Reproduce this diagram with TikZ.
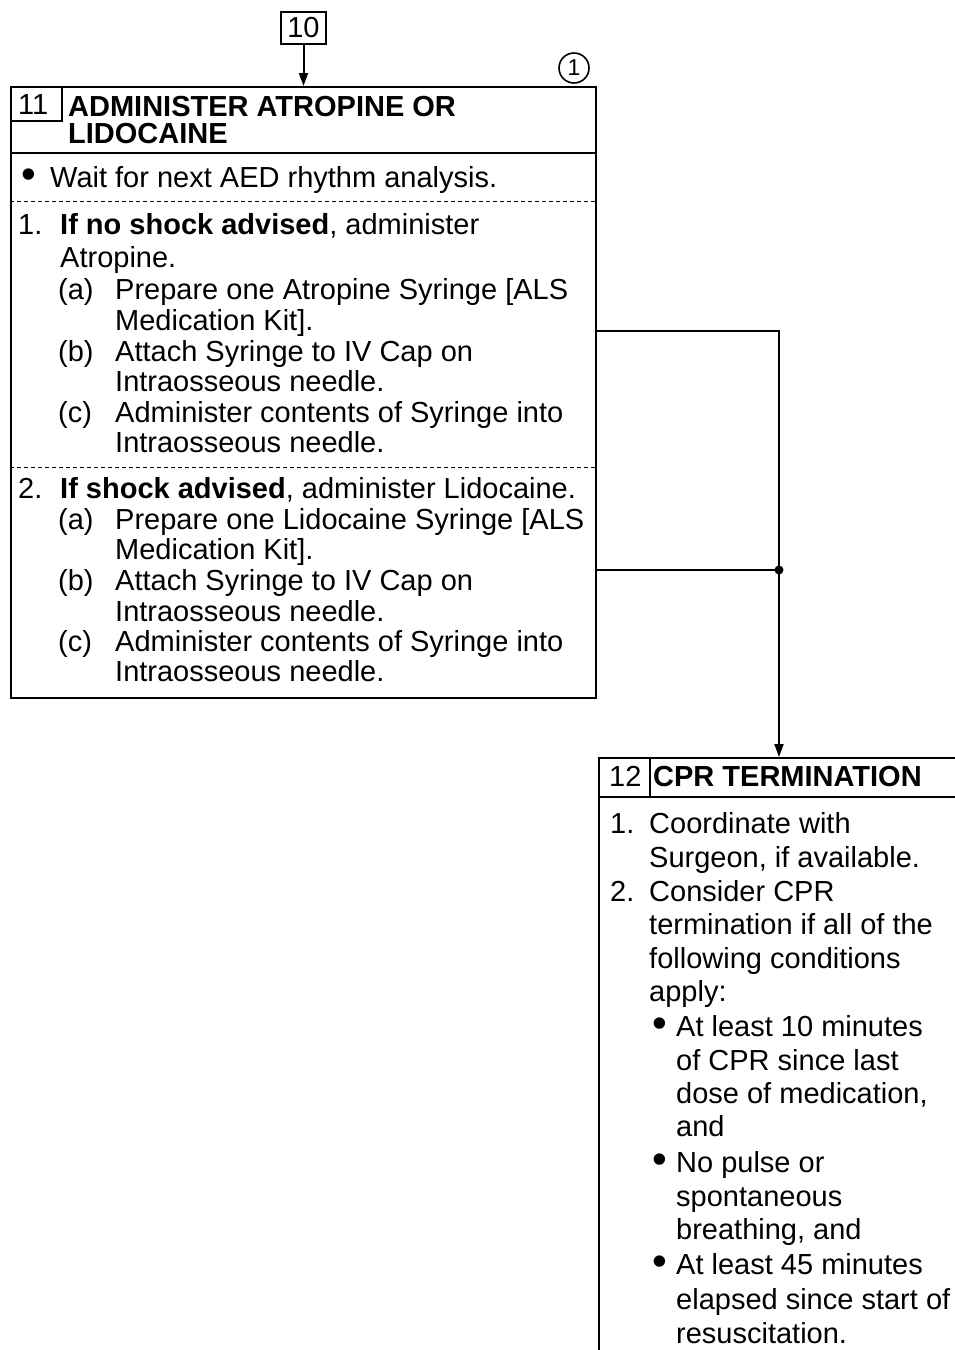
\documentclass[tikz,border=0pt]{standalone}
\usepackage{fontspec}
\setmainfont{Liberation Sans}
\usetikzlibrary{arrows.meta}
\newcommand{\bigbul}{\raisebox{-0.06em}{\scalebox{1.45}{\textbullet}}}
\begin{document}
\begin{tikzpicture}[x=1pt,y=-1pt,
  t/.style={anchor=base west, inner sep=0pt, font=\fontsize{29}{30}\selectfont},
  frame/.style={draw, line width=2pt, anchor=north west, inner sep=0pt},
  conn/.style={draw, line width=2pt},
  sep/.style={draw, line width=0.9pt, dash pattern=on 4pt off 3pt},
  arr/.style={-{Triangle[length=13pt,width=9pt]}}]
\useasboundingbox[fill=white] (0,0) rectangle (955,1350);

% box 10
\node[draw, line width=1.5pt, minimum width=45pt, minimum height=32pt, inner sep=0pt,
      font=\fontsize{29}{30}\selectfont] (b10) at (303.5,28) {10};
% circled 1
\node[draw, circle, line width=1.6pt, minimum size=30pt, inner sep=0pt,
      font=\fontsize{23}{24}\selectfont] (c1) at (574,68) {1};

% box 11 frame
\node[frame, minimum width=585pt, minimum height=611pt] (b11) at (10,86) {};
\draw[line width=2pt] (10,153) -- (595,153);
\draw[line width=1.5pt] (10,121) -- (62,121) -- (62,86);
\draw[sep] (10,201) -- (595,201);
\draw[sep] (10,467) -- (595,467);

\node[t] (n11) at (18,114) {11};
\node[t] (h11a) at (68,116) {\bfseries ADMINISTER ATROPINE OR};
\node[t] (h11b) at (68,143) {\bfseries LIDOCAINE};

\node[t] (w0) at (21,187) {\bigbul};
\node[t] (w1) at (50,187) {Wait for next AED rhythm analysis.};

\node[t] (i1) at (18,234) {1.};
\node[t] (i1a) at (60,234) {\bfseries If no shock advised\mdseries, administer};
\node[t] (i1b) at (60,267) {Atropine.};
\node[t] (i1c) at (58,299) {(a)};
\node[t] (i1d) at (115,299) {Prepare one Atropine Syringe [ALS};
\node[t] (i1e) at (115,330) {Medication Kit].};
\node[t] (i1f) at (58,361) {(b)};
\node[t] (i1g) at (115,361) {Attach Syringe to IV Cap on};
\node[t] (i1h) at (115,391) {Intraosseous needle.};
\node[t] (i1i) at (58,422) {(c)};
\node[t] (i1j) at (115,422) {Administer contents of Syringe into};
\node[t] (i1k) at (115,452) {Intraosseous needle.};

\node[t] (i2) at (18,498) {2.};
\node[t] (i2a) at (60,498) {\bfseries If shock advised\mdseries, administer Lidocaine.};
\node[t] (i2c) at (58,529) {(a)};
\node[t] (i2d) at (115,529) {Prepare one Lidocaine Syringe [ALS};
\node[t] (i2e) at (115,559) {Medication Kit].};
\node[t] (i2f) at (58,590) {(b)};
\node[t] (i2g) at (115,590) {Attach Syringe to IV Cap on};
\node[t] (i2h) at (115,621) {Intraosseous needle.};
\node[t] (i2i) at (58,651) {(c)};
\node[t] (i2j) at (115,651) {Administer contents of Syringe into};
\node[t] (i2k) at (115,681) {Intraosseous needle.};

% box 12 frame (runs past the page edge)
\node[frame, minimum width=420pt, minimum height=700pt] (b12) at (598,757) {};
\draw[line width=2pt] (598,797) -- (1020,797);
\draw[line width=1.5pt] (650,757) -- (650,797);
\node[t] (n12) at (609,786) {12};
\node[t] (h12) at (653,786) {\bfseries CPR TERMINATION};

\node[t] (k1) at (610,833) {1.};
\node[t] (k1a) at (649,833) {Coordinate with};
\node[t] (k1b) at (649,867) {Surgeon, if available.};
\node[t] (k2) at (610,901) {2.};
\node[t] (k2a) at (649,901) {Consider CPR};
\node[t] (k2b) at (649,934) {termination if all of the};
\node[t] (k2c) at (649,968) {following conditions};
\node[t] (k2d) at (649,1001) {apply:};
\node[t] (p1) at (652,1036) {\bigbul};
\node[t] (p1a) at (676,1036) {At least 10 minutes};
\node[t] (p1b) at (676,1070) {of CPR since last};
\node[t] (p1c) at (676,1103) {dose of medication,};
\node[t] (p1d) at (676,1136) {and};
\node[t] (p2) at (652,1172) {\bigbul};
\node[t] (p2a) at (676,1172) {No pulse or};
\node[t] (p2b) at (676,1206) {spontaneous};
\node[t] (p2c) at (676,1239) {breathing, and};
\node[t] (p3) at (652,1274) {\bigbul};
\node[t] (p3a) at (676,1274) {At least 45 minutes};
\node[t] (p3b) at (676,1309) {elapsed since start of};
\node[t] (p3c) at (676,1343) {resuscitation.};

% connectors
\coordinate (j1) at (779,331);
\coordinate (j2) at (779,570);
\draw[conn, arr] (b10.south) -- (b10.south |- b11.north);
\draw[conn, arr] (b11.east |- j1) -- (j1) -- (j1 |- b12.north);
\draw[conn] (b11.east |- j2) -- (j2);
\fill (j2) circle (4.5pt);
\end{tikzpicture}
\end{document}
